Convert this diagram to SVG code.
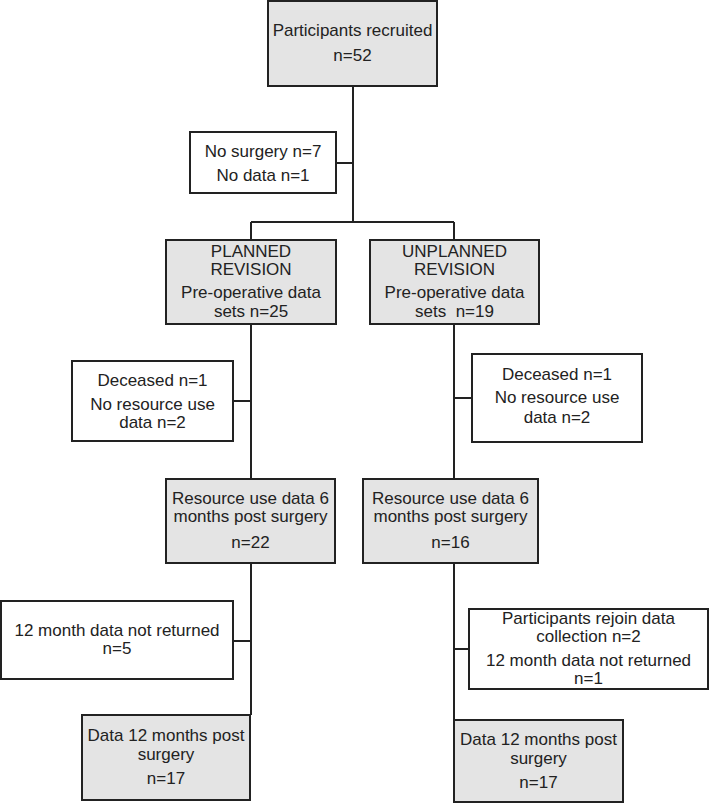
<svg xmlns="http://www.w3.org/2000/svg" width="709" height="804" viewBox="0 0 709 804">
<style>
.b{fill:#fff;stroke:#222;stroke-width:2}
.g{fill:#e4e4e4;stroke:#222;stroke-width:2}
.c{fill:none;stroke:#222;stroke-width:2}
text{font-family:"Liberation Sans",Arial,sans-serif;font-size:17px;fill:#222;text-anchor:middle}
</style>
<rect width="709" height="804" fill="#fff"/>
<g id="connectors">
<path class="c" d="M353 86V222M336 163H353M251 222H454M251 222V240M454 222V240"/>
<path class="c" d="M251 324V479M233 401H251M251 563V715M233 641H251"/>
<path class="c" d="M454 324V479M454 398H472M454 563V720M454 649H469"/>
</g>
<g id="recruited">
<rect class="g" x="268" y="1" width="169" height="85"/>
<text x="352.5" y="36">Participants recruited</text>
<text x="352.5" y="61">n=52</text>
</g>
<g id="nosurgery">
<rect class="b" x="190" y="132" width="146" height="61"/>
<text x="263" y="157">No surgery n=7</text>
<text x="263" y="181">No data n=1</text>
</g>
<g id="planned">
<rect class="g" x="166" y="240" width="170" height="84"/>
<text x="251" y="257">PLANNED</text>
<text x="251" y="275">REVISION</text>
<text x="251" y="298">Pre-operative data</text>
<text x="251" y="317">sets n=25</text>
</g>
<g id="unplanned">
<rect class="g" x="370" y="240" width="169" height="84"/>
<text x="454.5" y="257">UNPLANNED</text>
<text x="454.5" y="275">REVISION</text>
<text x="454.5" y="298">Pre-operative data</text>
<text x="454.5" y="317" xml:space="preserve">sets  n=19</text>
</g>
<g id="deceased-left">
<rect class="b" x="72" y="361" width="161" height="80"/>
<text x="152.5" y="386">Deceased n=1</text>
<text x="152.5" y="410">No resource use</text>
<text x="152.5" y="428">data n=2</text>
</g>
<g id="deceased-right">
<rect class="b" x="472" y="354" width="170" height="88"/>
<text x="557" y="380">Deceased n=1</text>
<text x="557" y="403">No resource use</text>
<text x="557" y="423">data n=2</text>
</g>
<g id="resource-left">
<rect class="g" x="166" y="479" width="169" height="84"/>
<text x="250.5" y="504">Resource use data 6</text>
<text x="250.5" y="522">months post surgery</text>
<text x="250.5" y="548">n=22</text>
</g>
<g id="resource-right">
<rect class="g" x="363" y="479" width="175" height="84"/>
<text x="450.5" y="504">Resource use data 6</text>
<text x="450.5" y="522">months post surgery</text>
<text x="450.5" y="548">n=16</text>
</g>
<g id="notreturned-left">
<rect class="b" x="1" y="601" width="232" height="78"/>
<text x="117" y="636">12 month data not returned</text>
<text x="117" y="654">n=5</text>
</g>
<g id="rejoin-right">
<rect class="b" x="469" y="609" width="239" height="80"/>
<text x="588.5" y="624">Participants rejoin data</text>
<text x="588.5" y="642">collection n=2</text>
<text x="588.5" y="666">12 month data not returned</text>
<text x="588.5" y="684">n=1</text>
</g>
<g id="data12-left">
<rect class="g" x="82" y="715" width="168" height="85"/>
<text x="166" y="741">Data 12 months post</text>
<text x="166" y="760">surgery</text>
<text x="166" y="784">n=17</text>
</g>
<g id="data12-right">
<rect class="g" x="454" y="720" width="169" height="82"/>
<text x="538.5" y="745">Data 12 months post</text>
<text x="538.5" y="764">surgery</text>
<text x="538.5" y="788">n=17</text>
</g>
</svg>
